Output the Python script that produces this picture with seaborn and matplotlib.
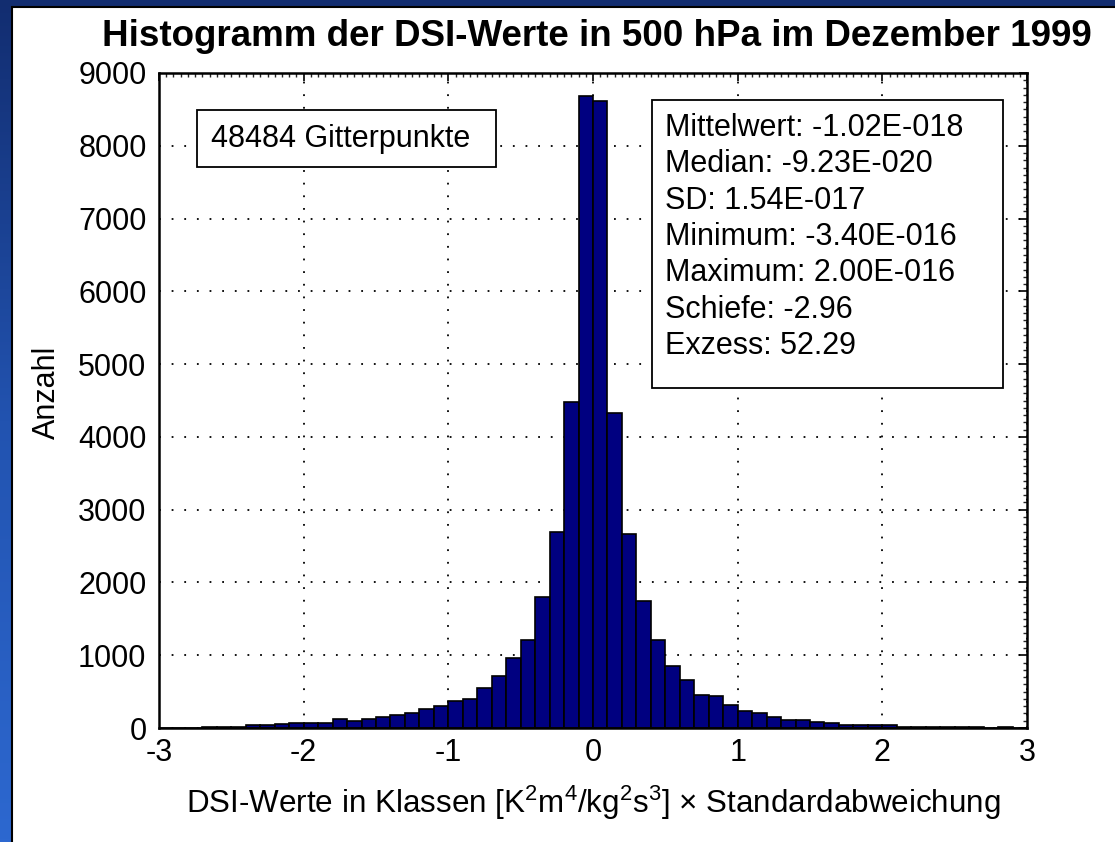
import numpy as np
import pandas as pd
import matplotlib
matplotlib.use("Agg")
from matplotlib import pyplot as plt
from matplotlib.patches import Rectangle
from matplotlib.ticker import MultipleLocator
import seaborn as sns

# histogram counts, 60 classes of width 0.1 from -3 to 3
class_range = (-3, 3)
counts = [3, 4, 6, 8, 10, 14,
          47, 47, 50, 70, 72, 75, 122, 96, 122, 152, 185, 212,
          265, 297, 376, 404, 548, 712, 962, 1210, 1795, 2690, 4480, 8690,
          8610, 4330, 2660, 1750, 1215, 850, 655, 460, 437, 320,
          235, 202, 146, 110, 108, 85, 62, 40, 38, 38,
          38, 15, 14, 13, 12, 12, 10, 0, 14, 3]
bin_edges = np.linspace(class_range[0], class_range[1], len(counts) + 1)
bin_centers = (bin_edges[:-1] + bin_edges[1:]) / 2

xticks = [-3, -2, -1, 0, 1, 2, 3]
yticks = [0, 1000, 2000, 3000, 4000, 5000, 6000, 7000, 8000, 9000]

title = "Histogramm der DSI-Werte in 500 hPa im Dezember 1999"
xlabel = (r"DSI-Werte in Klassen [K$\mathregular{^2}$m$\mathregular{^4}$/kg"
          r"$\mathregular{^2}$s$\mathregular{^3}$] × Standardabweichung")
ylabel = "Anzahl"
count_text = "48484 Gitterpunkte"
stats_lines = ["Mittelwert: -1.02E-018",
               "Median: -9.23E-020",
               "SD: 1.54E-017",
               "Minimum: -3.40E-016",
               "Maximum: 2.00E-016",
               "Schiefe: -2.96",
               "Exzess: 52.29"]

df = pd.DataFrame({"klasse": bin_centers, "anzahl": counts})

sns.set_style("white")
plt.rcParams["font.family"] = ["Liberation Sans", "DejaVu Sans"]
plt.rcParams["mathtext.fontset"] = "custom"
plt.rcParams["mathtext.rm"] = "Liberation Sans"
plt.rcParams["axes.unicode_minus"] = False
plt.rcParams["text.color"] = "black"
plt.rcParams["axes.labelcolor"] = "black"

fig = plt.figure(figsize=(11.15, 8.42), dpi=100)

# blue slide background with white panel
bg = fig.add_axes([0, 0, 1, 1], zorder=-10)
grad = np.linspace(0, 1, 256).reshape(-1, 1)
cmap = matplotlib.colors.LinearSegmentedColormap.from_list("bg", ["#122d70", "#2253b0", "#2d68d0"])
bg.imshow(grad, aspect="auto", cmap=cmap, extent=[0, 1, 0, 1], origin="upper")
bg.add_patch(Rectangle((12 / 1115, -0.01), 1.02, 1 - 7 / 842 + 0.01,
                       facecolor="white", edgecolor="black", linewidth=1.5))
bg.set_xlim(0, 1)
bg.set_ylim(0, 1)
bg.axis("off")

ax = fig.add_axes([159 / 1115, 1 - 728 / 842, 868 / 1115, 655 / 842])
sns.histplot(data=df, x="klasse", weights="anzahl", bins=len(counts),
             binrange=class_range, ax=ax,
             color="#000080", edgecolor="black", linewidth=1.2, alpha=1.0)

ax.set_xlim(-3, 3)
ax.set_ylim(0, 9000)
ax.set_xticks(xticks)
ax.set_yticks(yticks)
ax.xaxis.set_minor_locator(MultipleLocator(0.05))
ax.yaxis.set_minor_locator(MultipleLocator(100))
ax.tick_params(which="major", direction="in", length=6, width=1.2,
               top=True, right=True, labelsize=22, colors="black", pad=7)
ax.tick_params(which="minor", direction="in", length=3, width=1,
               top=True, right=True, bottom=False, left=False)
ax.tick_params(axis="y", pad=9)
ax.set_axisbelow(True)
ax.grid(True, which="major", color="black", linestyle=(0, (1, 6)), linewidth=1.3)
for s in ax.spines.values():
    s.set_visible(True)
    s.set_color("black")
    s.set_linewidth(1.8)

ax.set_xlabel(xlabel, fontsize=22.6)
ax.set_ylabel(ylabel, fontsize=22)
ax.xaxis.set_label_coords(0.5, -0.085)
ax.yaxis.set_label_coords(-0.112, 0.513)

fig.text(597 / 1115, 1 - 37 / 842, title, ha="center", va="center",
         fontsize=26.5, fontweight="bold")

# annotation boxes
ax.add_patch(Rectangle(((197 - 159) / 868, (728 - 167) / 655), 299 / 868, 57 / 655,
                       transform=ax.transAxes, facecolor="white", edgecolor="black",
                       linewidth=1.3, zorder=5))
ax.text((211 - 159) / 868, (728 - 139) / 655, count_text, transform=ax.transAxes,
        ha="left", va="center", fontsize=22, zorder=6)

ax.add_patch(Rectangle(((652 - 159) / 868, (728 - 388) / 655), 351 / 868, 288 / 655,
                       transform=ax.transAxes, facecolor="white", edgecolor="black",
                       linewidth=1.3, zorder=5))
for i, line in enumerate(stats_lines):
    ax.text((665 - 159) / 868, (728 - 128 - 36.3 * i) / 655, line, transform=ax.transAxes,
            ha="left", va="center", fontsize=22, zorder=6)

fig.savefig("out.png", dpi=100)
